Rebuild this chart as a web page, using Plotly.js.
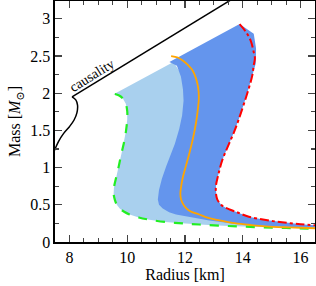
<!DOCTYPE html>
<html>
<head>
<meta charset="utf-8">
<script src="https://cdn.plot.ly/plotly-3.0.1.min.js"></script>
<style>html,body{margin:0;padding:0;background:#fff;}#chart{width:316px;height:286px;}</style>
</head>
<body>
<div id="chart"></div>
<script>
// Green dashed boundary (soft EoS envelope)
const greenR = [9.57,9.72,9.85,9.95,10.0,10.0,9.96,9.90,9.83,9.75,9.68,9.60,9.54,9.53,9.57,9.64,9.74,9.88,10.08,10.4,10.77,11.3,11.92,12.5,13.5,14.5,15.5,16.5];
const greenM = [1.99,1.97,1.93,1.86,1.76,1.65,1.50,1.36,1.24,1.10,0.97,0.84,0.73,0.65,0.57,0.50,0.45,0.41,0.37,0.33,0.30,0.27,0.25,0.235,0.215,0.20,0.188,0.177];

// Red dash-dot boundary (stiff EoS envelope)
const redR = [13.89,14.1,14.27,14.38,14.42,14.38,14.33,14.22,14.10,13.87,13.70,13.50,13.29,13.15,13.07,13.08,13.12,13.25,13.41,13.8,14.21,14.8,15.36,16.0,16.5];
const redM = [2.93,2.83,2.71,2.55,2.47,2.38,2.24,2.08,1.93,1.66,1.48,1.30,1.10,0.90,0.75,0.63,0.57,0.50,0.46,0.40,0.34,0.295,0.265,0.24,0.225];

// Orange solid curve
const orangeR = [11.52,11.75,11.92,12.1,12.26,12.38,12.45,12.48,12.45,12.38,12.28,12.15,12.03,11.92,11.86,11.84,11.86,11.92,12.03,12.2,12.49,12.84,13.2,13.64,14.2,14.79,15.6,16.5];
const orangeM = [2.50,2.48,2.44,2.38,2.31,2.20,2.09,1.95,1.80,1.60,1.40,1.19,1.02,0.86,0.73,0.65,0.58,0.52,0.46,0.41,0.37,0.32,0.29,0.257,0.232,0.21,0.196,0.185];

// Dark blue band: left/bottom boundary (top to bottom/right)
const darkLeftR = [11.46,11.72,11.86,11.93,11.95,11.90,11.80,11.65,11.52,11.35,11.2,11.1,11.06,11.1,11.23,11.45,11.69,12.0,12.38,12.84,13.64,14.79,16.5];
const darkLeftM = [2.42,2.37,2.22,2.05,1.90,1.70,1.52,1.32,1.19,1.02,0.85,0.70,0.57,0.50,0.45,0.40,0.37,0.34,0.32,0.29,0.25,0.215,0.19];
// Dark blue band: upper-right corner beyond the red line
const darkCornerR = [14.38,14.46,14.45];
const darkCornerM = [2.80,2.60,2.40];

// Light blue band: inner closing path (hidden under the dark band)
const lightInnerR = [16.5,16.5,14.8,13.6,12.6,12.3,12.3,11.6,9.5];
const lightInnerM = [0.177,0.21,0.24,0.29,0.5,1.0,2.0,2.42,1.98];

// Causality straight line
const causLineR = [14.2,8.09];
const causLineM = [3.40,1.95];
// Causal EoS curve below the cusp
const causCurveR = [8.09,8.22,8.28,8.26,8.16,8.00,7.80,7.62,7.45,7.3];
const causCurveM = [1.95,1.91,1.84,1.74,1.64,1.55,1.46,1.35,1.20,1.02];

const lightR = greenR.concat(lightInnerR);
const lightM = greenM.concat(lightInnerM);

const darkR = [darkLeftR[0], redR[0]].concat(darkCornerR, redR.slice(6), darkLeftR.slice().reverse());
const darkM = [darkLeftM[0], redM[0]].concat(darkCornerM, redM.slice(6), darkLeftM.slice().reverse());

const traces = [
  {x: lightR, y: lightM, mode: 'lines', fill: 'toself', fillcolor: '#a9d0ee', line: {width: 0}, hoverinfo: 'skip'},
  {x: darkR, y: darkM, mode: 'lines', fill: 'toself', fillcolor: '#6495ed', line: {width: 0}, hoverinfo: 'skip'},
  {x: causLineR, y: causLineM, mode: 'lines', line: {color: '#000', width: 1.5}},
  {x: causCurveR, y: causCurveM, mode: 'lines', line: {color: '#000', width: 1.5, shape: 'spline', smoothing: 1}},
  {x: greenR, y: greenM, mode: 'lines', line: {color: '#22ee22', width: 2.2, dash: 'dash', shape: 'spline'}},
  {x: orangeR, y: orangeM, mode: 'lines', line: {color: '#ffa500', width: 1.8, shape: 'spline'}},
  {x: redR, y: redM, mode: 'lines', line: {color: '#ff0000', width: 2, dash: 'dashdot', shape: 'spline'}}
];

const fam = '"Liberation Serif", "DejaVu Serif", serif';
const font = {family: fam, size: 16, color: '#000'};

const layout = {
  width: 316, height: 286,
  margin: {l: 55, r: 1, t: 1, b: 43.5},
  paper_bgcolor: '#fff', plot_bgcolor: '#fff',
  showlegend: false,
  font: font,
  xaxis: {
    range: [7.5, 16.5], tick0: 0, dtick: 2, ticks: 'inside', ticklen: 7, tickwidth: 1.2,
    showline: true, linecolor: '#000', linewidth: 1.6, mirror: 'ticks', showgrid: false, zeroline: false,
    minor: {dtick: 0.5, tick0: 0, ticks: 'inside', ticklen: 4, tickwidth: 1.1, showgrid: false},
    title: {text: 'Radius [km]', font: font, standoff: 3},
    tickfont: font
  },
  yaxis: {
    range: [0, 3.24], tick0: 0, dtick: 0.5, ticks: 'inside', ticklen: 7, tickwidth: 1.2,
    showline: true, linecolor: '#000', linewidth: 1.6, mirror: 'ticks', showgrid: false, zeroline: false,
    minor: {dtick: 0.25, tick0: 0, ticks: 'inside', ticklen: 4, tickwidth: 1.1, showgrid: false},
    title: {text: 'Mass [<i>M</i><sub>⊙</sub>]', font: font, standoff: 5},
    tickfont: font
  },
  annotations: [
    {x: 8.78, y: 2.24, xref: 'x', yref: 'y', text: 'causality', showarrow: false, textangle: -32,
     font: {family: fam, size: 14, color: '#000'}}
  ]
};

Plotly.newPlot('chart', traces, layout, {staticPlot: true, displayModeBar: false});
</script>
</body>
</html>
